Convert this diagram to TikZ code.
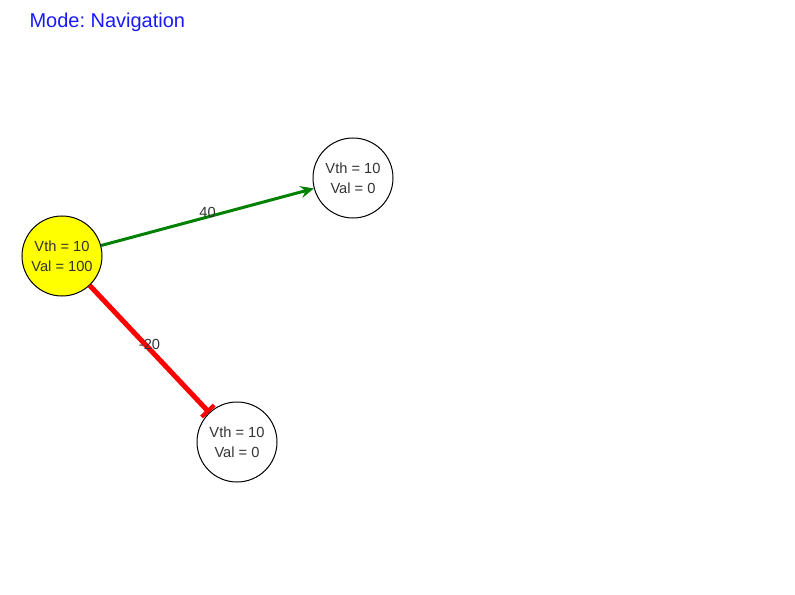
\documentclass[tikz,border=0pt]{standalone}
\usepackage{fontspec}
\setmainfont{Liberation Sans}
\usepackage{xcolor}
\usetikzlibrary{positioning}
\usetikzlibrary{arrows.meta}
\definecolor{titleblue}{RGB}{25,25,255}
\definecolor{textgray}{RGB}{51,51,51}
\definecolor{exgreen}{RGB}{0,128,0}
\definecolor{pureyellow}{RGB}{255,255,0}
\frenchspacing
\begin{document}
\begin{tikzpicture}[x=0.75pt, y=-0.75pt, line width=0.75pt,
        neuron/.style={circle, draw, minimum size=60pt, inner sep=0pt,
            align=center, font=\fontsize{11}{15}\selectfont, text=textgray},
        excite/.style={draw=exgreen, line width=2.25pt,
            -{Stealth[length=10pt, width=9pt, inset=3.5pt]}},
        inhibit/.style={draw=red, line width=3.75pt,
            -{Bar[width=13pt, line width=3pt]}},
        weight/.style={font=\fontsize{11}{12}\selectfont, text=textgray}]
            \useasboundingbox (0,0) rectangle (795,595);
            \node [anchor=west, text=titleblue, font=\fontsize{15}{18}\selectfont,
                inner sep=0pt] (mode) at (29,22) {Mode: Navigation};
            \node [neuron, fill=pureyellow] (src) at (62,256) {Vth = 10\\Val = 100};
            \node [neuron] (up) at (353,178) {Vth = 10\\Val = 0};
            \node [neuron] (down) at (237,442) {Vth = 10\\Val = 0};

            \path (src) edge [excite] node [weight, above=-5pt] {40} (up);
            \path (src) edge [inhibit] node [weight, above=-6pt] {-20} (down);
        \end{tikzpicture}
\end{document}
